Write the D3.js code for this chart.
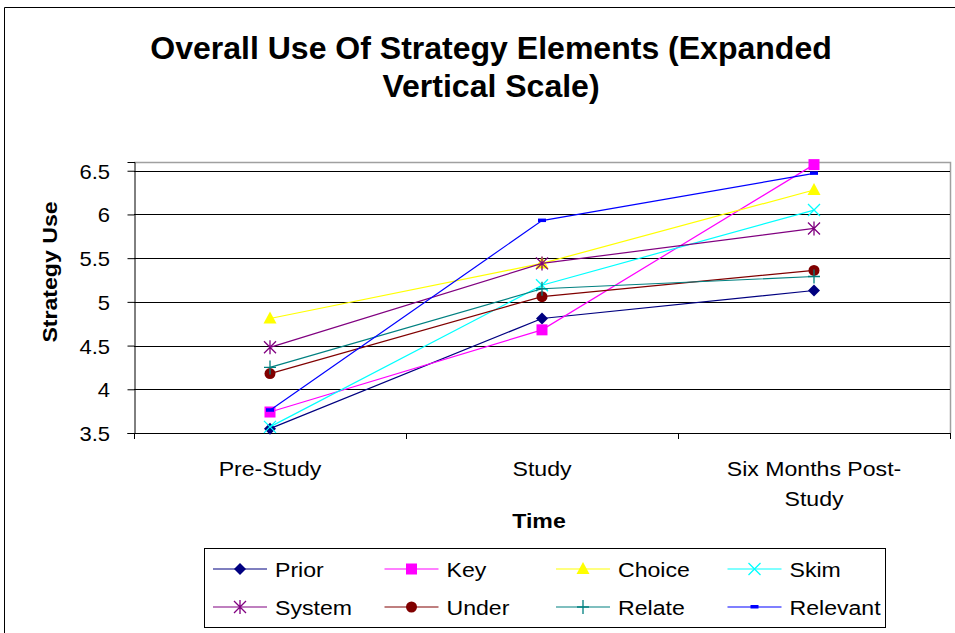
<!DOCTYPE html>
<html>
<head>
<meta charset="utf-8">
<script src="https://cdn.jsdelivr.net/npm/d3@7"></script>
<style>
  body { margin: 0; background: #fff; }
  svg { font-family: "Liberation Sans", Arial, sans-serif; display: block; }
</style>
</head>
<body>
<svg width="955" height="633"></svg>
<script>
(function () {
  var categories = [["Pre-Study"], ["Study"], ["Six Months Post-", "Study"]];
  var seriesNames = ["Prior", "Key", "Choice", "Skim", "System", "Under", "Relate", "Relevant"];
  var prior = [3.55, 4.81, 5.13];
  var key = [3.74, 4.68, 6.57];
  var choice = [4.81, 5.44, 6.28];
  var skim = [3.57, 5.19, 6.05];
  var system = [4.48, 5.44, 5.84];
  var under = [4.18, 5.06, 5.36];
  var relate = [4.25, 5.15, 5.29];
  var relevant = [3.76, 5.93, 6.47];
  var yTicks = [3.5, 4, 4.5, 5, 5.5, 6, 6.5];

  var values = [prior, key, choice, skim, system, under, relate, relevant];
  var colors = ["#000080", "#ff00ff", "#ffff00", "#00ffff", "#800080", "#800000", "#008080", "#0000ff"];
  var shapes = ["diamond", "square", "triangle", "x", "star", "circle", "plus", "dash"];

  var svg = d3.select('svg');

  // text slightly wider than the local Arial metric, as in the original
  function label(parent, px, py, str, size, anchor, bold, sx, rot) {
    var t = parent.append('text')
      .attr('transform', `translate(${px},${py})` + (rot ? ` rotate(${rot})` : '') + ` scale(${sx},1)`)
      .attr('text-anchor', anchor)
      .attr('font-size', size)
      .attr('fill', '#000')
      .text(str);
    if (bold) t.attr('font-weight', 'bold');
    return t;
  }

  // chart frame (only left and top edges fall inside the picture)
  svg.append('path')
    .attr('d', 'M4.5,640V7.5H960')
    .attr('fill', 'none')
    .attr('stroke', '#000')
    .attr('stroke-width', 1);

  var left = 134, right = 950, top = 162, bottom = 433;

  var x = d3.scaleBand()
    .domain(d3.range(categories.length))
    .range([left, right]);

  var y = d3.scaleLinear()
    .domain([3.5, 6.6])
    .range([bottom, top]);

  // title
  label(svg, 491, 59, 'Overall Use Of Strategy Elements (Expanded', 30.5, 'middle', true, 1.05);
  label(svg, 491, 97, 'Vertical Scale)', 30.5, 'middle', true, 1.05);

  // plot area border (top/right)
  svg.append('path')
    .attr('d', `M${left},${top + 0.5}H${right + 0.5}V${bottom}`)
    .attr('fill', 'none')
    .attr('stroke', '#a0a0a0')
    .attr('stroke-width', 1.5);

  // gridlines
  svg.append('g')
    .selectAll('line')
    .data(yTicks)
    .enter()
    .append('line')
    .attr('x1', left)
    .attr('x2', right)
    .attr('y1', d => Math.round(y(d)) + 0.5)
    .attr('y2', d => Math.round(y(d)) + 0.5)
    .attr('stroke', '#000')
    .attr('stroke-width', 1.2);

  // y axis
  var yAxis = svg.append('g')
    .attr('transform', `translate(${left + 0.5},0)`)
    .call(d3.axisLeft(y).tickValues(yTicks).tickSize(7).tickFormat(''));
  yAxis.select('.domain').attr('stroke', '#000');
  yAxis.selectAll('line').attr('stroke', '#000');
  yTicks.forEach(v => label(svg, 110, Math.round(y(v)) + 7.5, d3.format('')(v), 20, 'end', false, 1.1));

  // x axis line and category ticks
  svg.append('line')
    .attr('x1', left).attr('x2', right + 1)
    .attr('y1', bottom + 0.5).attr('y2', bottom + 0.5)
    .attr('stroke', '#000');
  svg.append('g')
    .selectAll('line')
    .data(d3.range(categories.length + 1))
    .enter()
    .append('line')
    .attr('x1', d => Math.round(left + d * x.step()) + 0.5)
    .attr('x2', d => Math.round(left + d * x.step()) + 0.5)
    .attr('y1', bottom)
    .attr('y2', bottom + 6)
    .attr('stroke', '#000');

  var cx = i => x(i) + x.bandwidth() / 2;

  categories.forEach((lines, i) => {
    lines.forEach((s, j) => label(svg, cx(i), 476 + j * 30, s, 21, 'middle', false, 1.1));
  });

  label(svg, 539, 528, 'Time', 21, 'middle', true, 1.1);
  label(svg, 57, 272, 'Strategy Use', 21, 'middle', true, 1.1, -90);

  // marker shapes
  function marker(sel, shape, color) {
    if (shape === 'diamond') {
      sel.append('path').attr('d', 'M0,-6L6,0L0,6L-6,0Z').attr('fill', color);
    } else if (shape === 'square') {
      sel.append('rect').attr('x', -5.5).attr('y', -5.5).attr('width', 11).attr('height', 11).attr('fill', color);
    } else if (shape === 'triangle') {
      sel.append('path').attr('d', 'M0,-7L6.5,5L-6.5,5Z').attr('fill', color);
    } else if (shape === 'x') {
      sel.append('path').attr('d', 'M-6,-6L6,6M-6,6L6,-6').attr('stroke', color).attr('stroke-width', 1.3);
    } else if (shape === 'star') {
      sel.append('path').attr('d', 'M-6,-6L6,6M-6,6L6,-6M0,-7V7').attr('stroke', color).attr('stroke-width', 1.3);
    } else if (shape === 'circle') {
      sel.append('circle').attr('r', 5.5).attr('fill', color);
    } else if (shape === 'plus') {
      sel.append('path').attr('d', 'M-6,0H6M0,-7V7').attr('stroke', color).attr('stroke-width', 1.3);
    } else if (shape === 'dash') {
      sel.append('rect').attr('x', -4).attr('y', -2).attr('width', 8).attr('height', 3.5).attr('fill', color);
    }
  }

  var line = d3.line()
    .x((d, i) => cx(i))
    .y(d => y(d));

  var series = svg.append('g')
    .selectAll('g')
    .data(values)
    .enter()
    .append('g');

  series.append('path')
    .attr('d', d => line(d))
    .attr('fill', 'none')
    .attr('stroke', (d, i) => colors[i])
    .attr('stroke-width', 1.2);

  series.each(function (d, i) {
    var g = d3.select(this);
    d.forEach((v, j) => {
      var m = g.append('g').attr('transform', `translate(${cx(j)},${y(v)})`);
      marker(m, shapes[i], colors[i]);
    });
  });

  // legend
  var legend = svg.append('g');
  legend.append('rect')
    .attr('x', 204.5).attr('y', 548.5)
    .attr('width', 681).attr('height', 79)
    .attr('fill', '#fff')
    .attr('stroke', '#000')
    .attr('stroke-width', 1);

  var items = legend.selectAll('g')
    .data(seriesNames)
    .enter()
    .append('g')
    .attr('transform', (d, i) => `translate(${213 + (i % 4) * 171.5},${i < 4 ? 569 : 607})`);

  items.append('line')
    .attr('x1', 0).attr('x2', 54)
    .attr('stroke', (d, i) => colors[i])
    .attr('stroke-width', 1.2);
  items.each(function (d, i) {
    var m = d3.select(this).append('g').attr('transform', 'translate(27,0)');
    marker(m, shapes[i], colors[i]);
    label(d3.select(this), 62, 7.5, d, 21, 'start', false, 1.1);
  });
})();
</script>
</body>
</html>
